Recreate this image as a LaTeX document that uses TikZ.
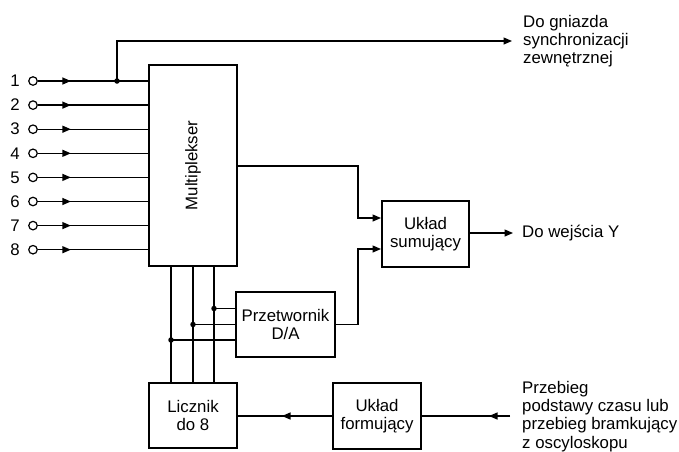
\documentclass[tikz,border=0pt]{standalone}
\usepackage{fontspec}
\setmainfont{Liberation Sans}
\usetikzlibrary{arrows.meta,decorations.markings,calc}
\begin{document}
\begin{tikzpicture}[x=1pt,y=-1pt,
  >={Triangle[length=8.5pt,width=7pt]},
  every node/.style={font=\fontsize{16.8pt}{18.3pt}\selectfont},
  line/.style={line width=1.3pt},
  blk/.style={draw,line width=2pt,inner sep=0pt,align=center},
  arr/.style={line,->},
  midarr/.style={line,postaction={decorate},decoration={markings,mark=at position #1 with {\arrow{>}}}},
  jdot/.style={circle,fill,inner sep=0pt,minimum size=5.5pt},
  term/.style={circle,draw,line width=1.2pt,fill=white,inner sep=0pt,minimum size=8.5pt},
  txt/.style={inner sep=0pt,align=left}]
\useasboundingbox (0,0) rectangle (679,451);

% blocks
\node[blk,minimum width=88pt,minimum height=201pt] (mux) at (193,165.5) {};
\node[rotate=90] (muxlabel) at (mux.center) {Multiplekser};
\node[blk,minimum width=87pt,minimum height=66pt] (sum) at (425.5,234) {Układ\\sumujący};
\node[blk,minimum width=99pt,minimum height=65pt] (da) at (285.5,324.5) {Przetwornik\\D/A};
\node[blk,minimum width=88pt,minimum height=65pt] (licz) at (193,415.5) {Licznik\\do 8};
\node[blk,minimum width=88pt,minimum height=66pt] (form) at (377,416) {Układ\\formujący};

% inputs
\foreach \i in {1,...,8}{
  \node[term] (in\i) at (33,{81+(\i-1)*24.1}) {};
  \node[anchor=east,inner sep=0pt] (lab\i) at (20,{81+(\i-1)*24.1}) {\i};
  \draw[midarr=33pt] (in\i.east) -- (mux.west |- in\i);
}

% synchronisation output
\coordinate (j1) at (117,81);
\coordinate (syncend) at (512,41);
\draw[arr] (j1) -- (j1 |- syncend) -- (syncend);
\node[jdot] (d1) at (j1) {};
\node[txt,anchor=north west] (synctext) at (523,15) {Do gniazda\\synchronizacji\\zewnętrznej};

% multiplexer -> summing
\coordinate (bend) at (358,166);
\draw[arr] (mux.east |- bend) -- (bend) -- (bend |- 0,218) -- ($(sum.west)+(0,-16)$);
\draw[arr] (da.east) -- (bend |- da.east) -- (bend |- 0,249) -- ($(sum.west)+(0,15)$);

% output Y
\coordinate (yend) at (513,233);
\draw[arr] (sum.east |- yend) -- (yend);
\node[anchor=west,inner sep=0pt] (ytext) at (522,233) {Do wejścia Y};

% counter bus
\foreach \dx/\dy/\n in {21/-16/a, 0/0/b, -22/15.5/c}{
  \draw[line] ($(mux.south)+(\dx,0)$) -- ($(licz.north)+(\dx,0)$);
  \coordinate (bus\n) at ($(mux.south |- da.west)+(\dx,\dy)$);
  \draw[line] (bus\n) -- (da.west |- bus\n);
  \node[jdot] (dot\n) at (bus\n) {};
}

% forming -> counter
\draw[midarr=50pt] (form.west) -- (licz.east |- form.west);

% external input
\coordinate (extin) at (510,416);
\draw[midarr=21pt] (extin) -- (form.east);
\node[txt,anchor=north west] (exttext) at (522,381) {Przebieg\\podstawy czasu lub\\przebieg bramkujący\\z oscyloskopu};
\end{tikzpicture}
\end{document}
